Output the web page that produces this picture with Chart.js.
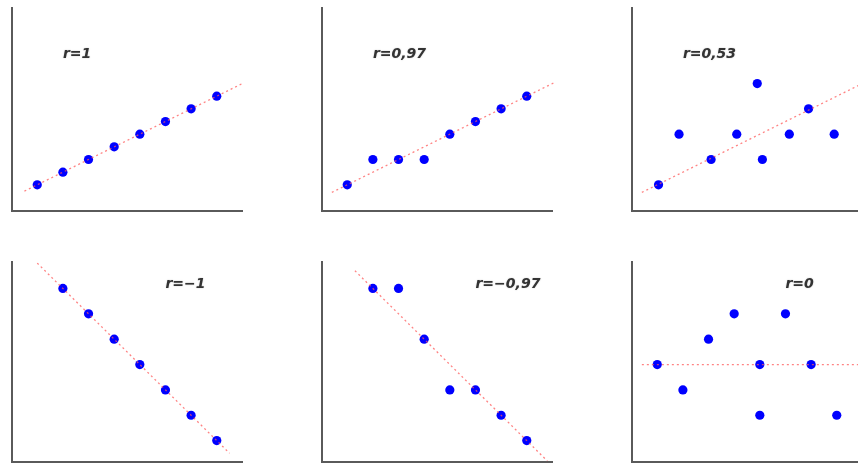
<!DOCTYPE html>
<html>
<head>
<meta charset="utf-8">
<script src="https://cdn.jsdelivr.net/npm/chart.js@4"></script>
<style>
  html, body { margin: 0; padding: 0; background: #fff; overflow: hidden; width: 858px; height: 466px; }
  canvas { position: absolute; }
</style>
</head>
<body>
<canvas id="c1"></canvas>
<canvas id="c2"></canvas>
<canvas id="c3"></canvas>
<canvas id="c4"></canvas>
<canvas id="c5"></canvas>
<canvas id="c6"></canvas>
<script>
// --- data ---
const labels = ['r=1', 'r=0,97', 'r=0,53', 'r=\u22121', 'r=\u22120,97', 'r=0'];

const x1 = [1, 2, 3, 4, 5, 6, 7, 8];
const y1 = [1, 1.5, 2, 2.5, 3, 3.5, 4, 4.5];
const x2 = [1, 2, 3, 4, 5, 6, 7, 8];
const y2 = [1, 2, 2, 2, 3, 3.5, 4, 4.5];
const x3 = [1.05, 1.85, 3.1, 4.1, 4.9, 5.1, 6.15, 6.9, 7.9];
const y3 = [1, 3, 2, 3, 5, 2, 3, 4, 3];
const x4 = [2, 3, 4, 5, 6, 7, 8];
const y4 = [7, 6, 5, 4, 3, 2, 1];
const x5 = [2, 3, 4, 5, 6, 7, 8];
const y5 = [7, 7, 5, 3, 3, 2, 1];
const x6 = [1, 2, 3, 4, 5, 5, 6, 7, 8];
const y6 = [4, 3, 5, 6, 4, 2, 6, 4, 2];

// dotted trend lines (end points)
const fitX = [[0.5, 9], [0.4, 9.1], [0.4, 9.1], [1, 8.5], [1.3, 8.8], [0.4, 9.2]];
const fitY = [[0.75, 5], [0.7, 5.05], [0.7, 5.05], [8, 0.5], [7.7, 0.2], [4, 4]];

// where the r= text sits, in data units
const labelX = [2, 2, 2, 6, 6, 6];
const labelY = [6, 6, 6, 7, 7, 7];

const xsAll = [x1, x2, x3, x4, x5, x6];
const ysAll = [y1, y2, y3, y4, y5, y6];

// --- layout ---
const PAD = 4;
const areaLeft = [11, 321, 631];
const areaTop = [7, 261];
const areaW = 232;
const areaH = [205, 202];
const yRange = [[-0.05, 8], [0.14, 8.06]];

const labelPlugin = {
    id: 'rlabel',
    afterDatasetsDraw(chart, args, opts) {
        const ctx = chart.ctx;
        const xs = chart.scales.x, ys = chart.scales.y;
        ctx.save();
        ctx.font = 'bold italic 14px "DejaVu Sans"';
        ctx.fillStyle = '#333';
        ctx.textBaseline = 'alphabetic';
        ctx.textAlign = 'left';
        ctx.shadowColor = 'rgba(0,0,0,0.25)';
        ctx.shadowBlur = 1.5;
        ctx.fillText(opts.text, xs.getPixelForValue(opts.x), ys.getPixelForValue(opts.y));
        ctx.restore();
    }
};

function makePanel(i) {
    const col = i % 3, row = Math.floor(i / 3);
    const cv = document.getElementById('c' + (i + 1));
    cv.width = areaW + 2 * PAD;
    cv.height = areaH[row] + 2 * PAD;
    cv.style.left = (areaLeft[col] - PAD) + 'px';
    cv.style.top = (areaTop[row] - PAD) + 'px';

    const pts = xsAll[i].map((x, k) => ({ x: x, y: ysAll[i][k] }));
    const fit = fitX[i].map((x, k) => ({ x: x, y: fitY[i][k] }));

    const axis = (min, max) => ({
        type: 'linear', min: min, max: max,
        ticks: { display: false },
        grid: { display: false, drawTicks: false },
        border: { display: true, color: '#5a5a5a', width: 2 }
    });

    new Chart(cv, {
        type: 'scatter',
        data: {
            datasets: [
                {
                    type: 'line', data: fit, showLine: true, clip: false,
                    borderColor: 'rgba(255,90,90,0.75)', borderWidth: 1.3,
                    borderDash: [2, 3], pointRadius: 0, fill: false
                },
                {
                    data: pts, backgroundColor: '#0000ff', borderWidth: 0,
                    pointRadius: 4.6, clip: false
                }
            ]
        },
        options: {
            responsive: false,
            animation: false,
            layout: { padding: PAD },
            scales: { x: axis(0, 9), y: axis(yRange[row][0], yRange[row][1]) },
            plugins: {
                legend: { display: false },
                tooltip: { enabled: false },
                rlabel: { text: labels[i], x: labelX[i], y: labelY[i] }
            }
        },
        plugins: [labelPlugin]
    });
}

for (let i = 0; i < 6; i++) makePanel(i);
</script>
</body>
</html>
